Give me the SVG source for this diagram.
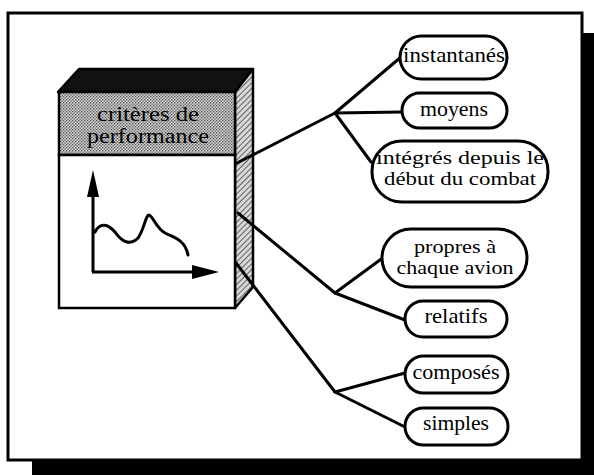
<svg xmlns="http://www.w3.org/2000/svg" width="594" height="475" viewBox="0 0 594 475">
<defs>
<pattern id="hatch" patternUnits="userSpaceOnUse" width="4" height="4" patternTransform="rotate(45)">
<rect width="4" height="4" fill="#d8d8d8"/>
<line x1="0" y1="0" x2="0" y2="4" stroke="#444" stroke-width="1.6"/>
</pattern>
<pattern id="dots" patternUnits="userSpaceOnUse" width="3" height="3">
<rect width="3" height="3" fill="#d0d0d0"/>
<rect x="0" y="0" width="1.3" height="1.3" fill="#555"/>
<rect x="1.5" y="1.5" width="1.3" height="1.3" fill="#555"/>
</pattern>
</defs>
<style>
.pill{fill:#fff;stroke:#000;stroke-width:3}
.t{font-family:"Liberation Serif","Times New Roman",serif;font-size:22px;fill:#000;text-anchor:middle}
.t2{font-family:"Liberation Serif","Times New Roman",serif;font-size:19px;fill:#000;text-anchor:middle}
.h{font-family:"Liberation Serif","Times New Roman",serif;font-size:20px;fill:#000;text-anchor:middle}
.ln{fill:none;stroke:#000;stroke-width:3;stroke-linejoin:round;stroke-linecap:round}
</style>
<rect x="0" y="0" width="594" height="475" fill="#fff"/>
<polygon points="582,33 594,33 594,475 32,475 32,460 582,460" fill="#000"/>
<rect x="8" y="13" width="574" height="447" fill="#fff" stroke="#000" stroke-width="3"/>

<g id="box">
<polygon points="58,92 79,69 253,69 235,92" fill="#111" stroke="#000" stroke-width="2.5" stroke-linejoin="round"/>
<polygon points="235,92 253,69 253,287 235,308" fill="url(#hatch)" stroke="#000" stroke-width="2.5" stroke-linejoin="round"/>
<rect x="59" y="92" width="176" height="63" fill="url(#dots)" stroke="#000" stroke-width="2.5"/>
<rect x="59" y="155" width="176" height="153" fill="#fff" stroke="#000" stroke-width="2.5"/>
<text class="h" x="148" y="121" textLength="102" lengthAdjust="spacingAndGlyphs">critères de</text>
<text class="h" x="148" y="143" textLength="122" lengthAdjust="spacingAndGlyphs">performance</text>
<line x1="93" y1="192" x2="93" y2="272" stroke="#000" stroke-width="3"/>
<polygon points="93,170 87,197 99,197" fill="#000"/>
<line x1="92" y1="272" x2="195" y2="272" stroke="#000" stroke-width="3"/>
<polygon points="219,272 192,265 192,279" fill="#000"/>
<path d="M95,232 C100,222 108,224 115,232 C122,242 130,246 138,238 C144,230 146,214 149,215 C153,216 156,228 165,233 C175,238 185,240 188,255" fill="none" stroke="#000" stroke-width="3" stroke-linecap="round"/>
</g>

<g id="connectors">
<polyline class="ln" points="237,163 335,113 401,57"/>
<line class="ln" x1="335" y1="113" x2="402" y2="112"/>
<line class="ln" x1="335" y1="113" x2="371" y2="162"/>
<polyline class="ln" points="238,213 335,293 405,320"/>
<line class="ln" x1="335" y1="293" x2="384" y2="257"/>
<polyline class="ln" points="236,263 335,392 405,427"/>
<line class="ln" x1="335" y1="392" x2="405" y2="373"/>
</g>

<g id="n-instantanes">
<rect class="pill" x="400" y="36" width="107" height="43" rx="21.5"/>
<text class="t" x="454" y="62" textLength="102" lengthAdjust="spacingAndGlyphs">instantanés</text>
</g>
<g id="n-moyens">
<rect class="pill" x="402" y="93" width="105" height="35" rx="17.5"/>
<text class="t" x="454" y="116" textLength="68" lengthAdjust="spacingAndGlyphs">moyens</text>
</g>
<g id="n-integres">
<rect class="pill" x="372" y="141" width="176" height="61" rx="30"/>
<text class="t2" x="460" y="164" textLength="168" lengthAdjust="spacingAndGlyphs">intégrés depuis le</text>
<text class="t2" x="460" y="185" textLength="152" lengthAdjust="spacingAndGlyphs">début du combat</text>
</g>
<g id="n-propres">
<rect class="pill" x="382" y="229" width="145" height="58" rx="29"/>
<text class="t2" x="455" y="253" textLength="82" lengthAdjust="spacingAndGlyphs">propres à</text>
<text class="t2" x="455" y="274" textLength="117" lengthAdjust="spacingAndGlyphs">chaque avion</text>
</g>
<g id="n-relatifs">
<rect class="pill" x="405" y="301" width="102" height="36" rx="18"/>
<text class="t" x="456" y="323" textLength="63" lengthAdjust="spacingAndGlyphs">relatifs</text>
</g>
<g id="n-composes">
<rect class="pill" x="405" y="356" width="103" height="37" rx="18.5"/>
<text class="t" x="456" y="379" textLength="87" lengthAdjust="spacingAndGlyphs">composés</text>
</g>
<g id="n-simples">
<rect class="pill" x="405" y="408" width="103" height="37" rx="18.5"/>
<text class="t" x="456" y="430" textLength="66" lengthAdjust="spacingAndGlyphs">simples</text>
</g>
</svg>
